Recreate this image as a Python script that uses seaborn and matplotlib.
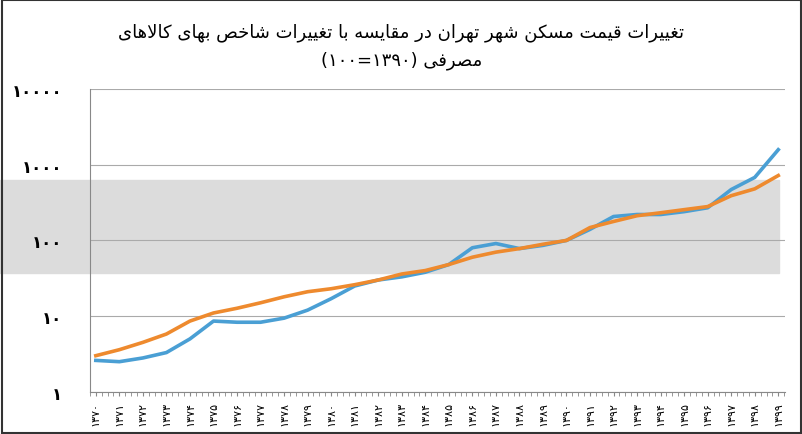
import matplotlib
matplotlib.use("Agg")
import matplotlib.pyplot as plt
import matplotlib.patches as mpatches
import seaborn as sns
import pandas as pd
import numpy as np

years = list(range(1370, 1400))
housing = [2.6, 2.5, 2.8, 3.3, 5.0, 8.6, 8.3, 8.3, 9.4, 12, 17, 25, 30, 33, 38, 48,
           80, 91, 78, 86, 100, 140, 207, 220, 220, 240, 270, 470, 680, 1580]
cpi = [3.0, 3.6, 4.5, 5.8, 8.6, 11, 12.7, 15, 18, 21, 23, 26, 30, 36, 40, 48,
       60, 70, 78, 89, 100, 148, 178, 212, 232, 255, 280, 390, 480, 720]
ytick_vals = [1, 10, 100, 1000, 10000]

FA = str.maketrans("0123456789", "۰۱۲۳۴۵۶۷۸۹")

# tiny arabic shaper: (isolated, final, initial, medial); 2-tuple = right-joining only
FORMS = {
    "ا": (0xFE8D, 0xFE8E), "د": (0xFEA9, 0xFEAA), "ر": (0xFEAD, 0xFEAE),
    "ز": (0xFEAF, 0xFEB0), "و": (0xFEED, 0xFEEE),
    "ب": (0xFE8F, 0xFE90, 0xFE91, 0xFE92), "ت": (0xFE95, 0xFE96, 0xFE97, 0xFE98),
    "خ": (0xFEA5, 0xFEA6, 0xFEA7, 0xFEA8),
    "ص": (0xFEB9, 0xFEBA, 0xFEBB, 0xFEBC), "س": (0xFEB1, 0xFEB2, 0xFEB3, 0xFEB4),
    "ش": (0xFEB5, 0xFEB6, 0xFEB7, 0xFEB8), "ط": (0xFEC1, 0xFEC2, 0xFEC3, 0xFEC4),
    "غ": (0xFECD, 0xFECE, 0xFECF, 0xFED0), "ف": (0xFED1, 0xFED2, 0xFED3, 0xFED4),
    "ق": (0xFED5, 0xFED6, 0xFED7, 0xFED8), "ل": (0xFEDD, 0xFEDE, 0xFEDF, 0xFEE0),
    "م": (0xFEE1, 0xFEE2, 0xFEE3, 0xFEE4), "ن": (0xFEE5, 0xFEE6, 0xFEE7, 0xFEE8),
    "ه": (0xFEE9, 0xFEEA, 0xFEEB, 0xFEEC), "ک": (0xFB8E, 0xFB8F, 0xFB90, 0xFB91),
    "ی": (0xFBFC, 0xFBFD, 0xFBFE, 0xFBFF),
}


def shape_word(w):
    w = w.replace("لا", "\uE000")
    out = []
    for i, c in enumerate(w):
        prev = w[i - 1] if i > 0 else None
        nxt = w[i + 1] if i + 1 < len(w) else None
        joins_prev = prev is not None and prev in FORMS and len(FORMS[prev]) == 4
        if c == "\uE000":
            out.append(chr(0xFEFC if joins_prev else 0xFEFB))
            continue
        f = FORMS[c]
        joins_next = len(f) == 4 and nxt is not None and (nxt in FORMS or nxt == "\uE000")
        if joins_prev and joins_next:
            out.append(chr(f[3]))
        elif joins_prev:
            out.append(chr(f[1]))
        elif joins_next:
            out.append(chr(f[2]))
        else:
            out.append(chr(f[0]))
    return "".join(reversed(out))


def rtl(s):
    return " ".join(shape_word(w) for w in reversed(s.split()))


title1 = rtl("تغییرات قیمت مسکن شهر تهران در مقایسه با تغییرات شاخص بهای کالاهای")
title2 = "(۱۰۰=۱۳۹۰) " + rtl("مصرفی")

df = pd.DataFrame({"year": years * 2, "value": housing + cpi,
                   "series": ["housing"] * 30 + ["cpi"] * 30})

plt.rcParams["font.family"] = ["DejaVu Sans"]
fig = plt.figure(figsize=(8.03, 4.35), dpi=100)
ax = fig.add_axes([0.112, 0.097, 0.866, 0.696])
ax.set_facecolor("none")

# watermark band (behind the axes)
fig.patches.append(mpatches.Rectangle((0.0, 0.37), 0.97, 0.215, transform=fig.transFigure,
                                      color="#dcdcdc", zorder=-5))
fig.patches.append(mpatches.Rectangle((0.003, 0.003), 0.994, 0.994, transform=fig.transFigure,
                                      fill=False, edgecolor="#333333", lw=1.5, zorder=-5))

sns.lineplot(data=df, x="year", y="value", hue="series",
             palette={"housing": "#4a9fd4", "cpi": "#ee8a2e"}, lw=2.6,
             legend=False, ax=ax, zorder=3)
ax.set_yscale("log")
ax.set_ylim(1, 10000)
ax.set_xlim(1369.8, 1399.3)
ax.set_yticks(ytick_vals)
ax.set_yticklabels([str(v).translate(FA) for v in ytick_vals], fontsize=12, fontweight="bold")
ax.minorticks_off()
ax.set_xticks(years)
ax.set_xticklabels([str(y).translate(FA) for y in years], rotation=90, fontsize=8)
ax.set_xticks(np.arange(1369.75, 1399.3, 0.25), minor=True)
ax.tick_params(axis="x", which="both", length=3, color="#888888")
ax.tick_params(axis="y", length=0, pad=20)
ax.grid(axis="y", color="#aaaaaa", lw=0.8)
for s in ["top", "right"]:
    ax.spines[s].set_visible(False)
ax.spines["left"].set_color("#888888")
ax.spines["bottom"].set_color("#888888")
ax.set_xlabel("")
ax.set_ylabel("")

fig.text(0.5, 0.915, title1, ha="center", fontsize=13)
fig.text(0.5, 0.85, title2, ha="center", fontsize=13)

fig.savefig("out.png", dpi=100)
